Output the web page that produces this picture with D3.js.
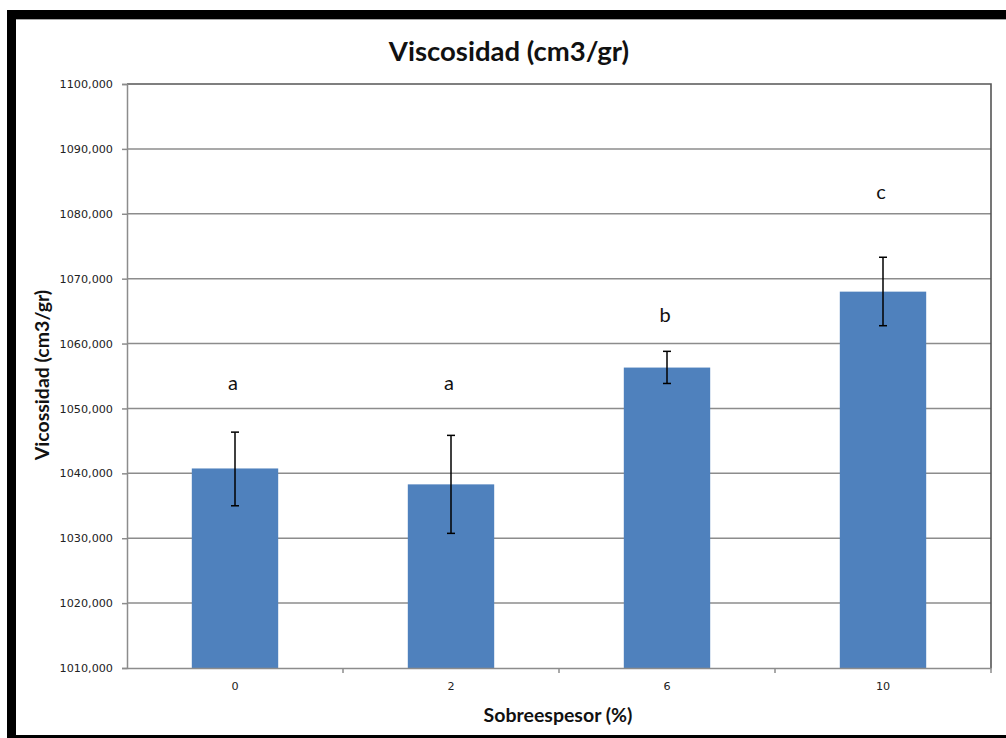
<!DOCTYPE html>
<html>
  <head>
    <script src="https://d3js.org/d3.v7.min.js"></script>
    <style>
      body { margin: 0; background: #fff; }
    </style>
  </head>
  <body>
    <svg width="1006" height="738"></svg>
    <script>
      // values
      var categories = ['0', '2', '6', '10'];
      var means      = [1040.75, 1038.3, 1056.3, 1068.0];
      var errLow     = [1035.0, 1030.75, 1053.85, 1062.75];
      var errHigh    = [1046.35, 1045.85, 1058.8, 1073.3];
      var letters    = ['a', 'a', 'b', 'c'];
      var letterAt   = [1053.9, 1053.9, 1064.4, 1083.4];
      var yTicks     = [1010, 1020, 1030, 1040, 1050, 1060, 1070, 1080, 1090, 1100];

      var svg = d3.select('svg');
      var pLeft = 127, pRight = 991, pTop = 84, pBottom = 668;
      var sans = "'Lato', 'Open Sans', sans-serif";
      var small = "'DejaVu Sans', Verdana, sans-serif";

      // outer frame
      svg.append('rect').attr('x', 7).attr('y', 10).attr('width', 9).attr('height', 728).style('fill', '#000');
      svg.append('rect').attr('x', 7).attr('y', 10).attr('width', 1000).attr('height', 9).style('fill', '#000');
      svg.append('rect').attr('x', 7).attr('y', 735).attr('width', 1000).attr('height', 3).style('fill', '#000');
      svg.append('line').attr('x1', 16).attr('x2', 1006).attr('y1', 19.5).attr('y2', 19.5)
        .style('stroke', '#a6a6a6').style('stroke-width', 1);

      var x = d3.scaleBand().domain(categories).range([pLeft, pRight]).paddingInner(0.6).paddingOuter(0.3);
      var xb = d3.scaleBand().domain(categories).range([pLeft, pRight]);
      var y = d3.scaleLinear().domain([1010, 1100]).range([pBottom, pTop]);

      // grid
      svg.append('g').selectAll('line').data(yTicks.slice(1, -1)).enter().append('line')
        .attr('x1', pLeft).attr('x2', pRight)
        .attr('y1', function(d) { return y(d); }).attr('y2', function(d) { return y(d); })
        .style('stroke', '#8c8c8c').style('stroke-width', 1.5);

      // plot area top/right border
      svg.append('path')
        .attr('d', 'M' + pLeft + ',' + y(1100) + 'H' + pRight + 'V' + pBottom)
        .style('fill', 'none').style('stroke', '#555').style('stroke-width', 1.6);

      // bars
      svg.append('g').selectAll('rect').data(means).enter().append('rect')
        .attr('x', function(d, i) { return x(categories[i]); })
        .attr('width', x.bandwidth())
        .attr('y', function(d) { return y(d); })
        .attr('height', function(d) { return y(1010) - y(d); })
        .style('fill', '#4f81bd');

      // error bars
      var eb = svg.append('g').style('stroke', '#000').style('stroke-width', 1.5);
      categories.forEach(function(c, i) {
        var cx = xb(c) + xb.bandwidth() / 2;
        eb.append('line').attr('x1', cx).attr('x2', cx).attr('y1', y(errLow[i])).attr('y2', y(errHigh[i]));
        eb.append('line').attr('x1', cx - 4).attr('x2', cx + 4).attr('y1', y(errLow[i])).attr('y2', y(errLow[i]));
        eb.append('line').attr('x1', cx - 4).attr('x2', cx + 4).attr('y1', y(errHigh[i])).attr('y2', y(errHigh[i]));
      });

      // letters
      svg.append('g').selectAll('text').data(letters).enter().append('text')
        .attr('x', function(d, i) { return xb(categories[i]) + xb.bandwidth() / 2 - 2; })
        .attr('y', function(d, i) { return y(letterAt[i]); })
        .attr('dy', '0.35em')
        .attr('text-anchor', 'middle')
        .style('font-family', sans).style('font-size', '20px').style('fill', '#111')
        .text(function(d) { return d; });

      // y axis
      var yAxis = svg.append('g').attr('transform', 'translate(' + pLeft + ',0)')
        .call(d3.axisLeft(y).tickValues(yTicks).tickSize(5).tickPadding(9)
          .tickFormat(function(d) { return d + ',000'; }));
      yAxis.select('.domain').style('stroke', '#8c8c8c').style('stroke-width', 1.5);
      yAxis.selectAll('.tick line').style('stroke', '#8c8c8c').style('stroke-width', 1.5);
      yAxis.selectAll('text').style('font-family', small).style('font-size', '11.2px').style('fill', '#222');

      // x axis
      var xAxis = svg.append('g').attr('transform', 'translate(0,' + pBottom + ')')
        .call(d3.axisBottom(xb).tickSize(0).tickPadding(14));
      xAxis.select('.domain').style('stroke', '#8c8c8c').style('stroke-width', 1.5);
      xAxis.selectAll('text').style('font-family', small).style('font-size', '11.2px').style('fill', '#222');
      svg.append('g').selectAll('line').data(categories).enter().append('line')
        .attr('x1', function(d) { return xb(d) + xb.bandwidth(); })
        .attr('x2', function(d) { return xb(d) + xb.bandwidth(); })
        .attr('y1', pBottom).attr('y2', pBottom + 5)
        .style('stroke', '#8c8c8c').style('stroke-width', 1.5);

      // titles
      svg.append('text').attr('x', 509).attr('y', 61).attr('text-anchor', 'middle')
        .style('font-family', sans).style('font-weight', 'bold').style('font-size', '27.5px').style('fill', '#111')
        .text('Viscosidad (cm3/gr)');
      svg.append('text').attr('x', 558).attr('y', 722).attr('text-anchor', 'middle')
        .style('font-family', sans).style('font-weight', 'bold').style('font-size', '19.5px').style('fill', '#111')
        .text('Sobreespesor (%)');
      svg.append('text').attr('transform', 'translate(49,375) rotate(-90)').attr('text-anchor', 'middle')
        .style('font-family', sans).style('font-weight', 'bold').style('font-size', '19.5px').style('fill', '#111')
        .text('Vicossidad (cm3/gr)');
    </script>
  </body>
</html>
